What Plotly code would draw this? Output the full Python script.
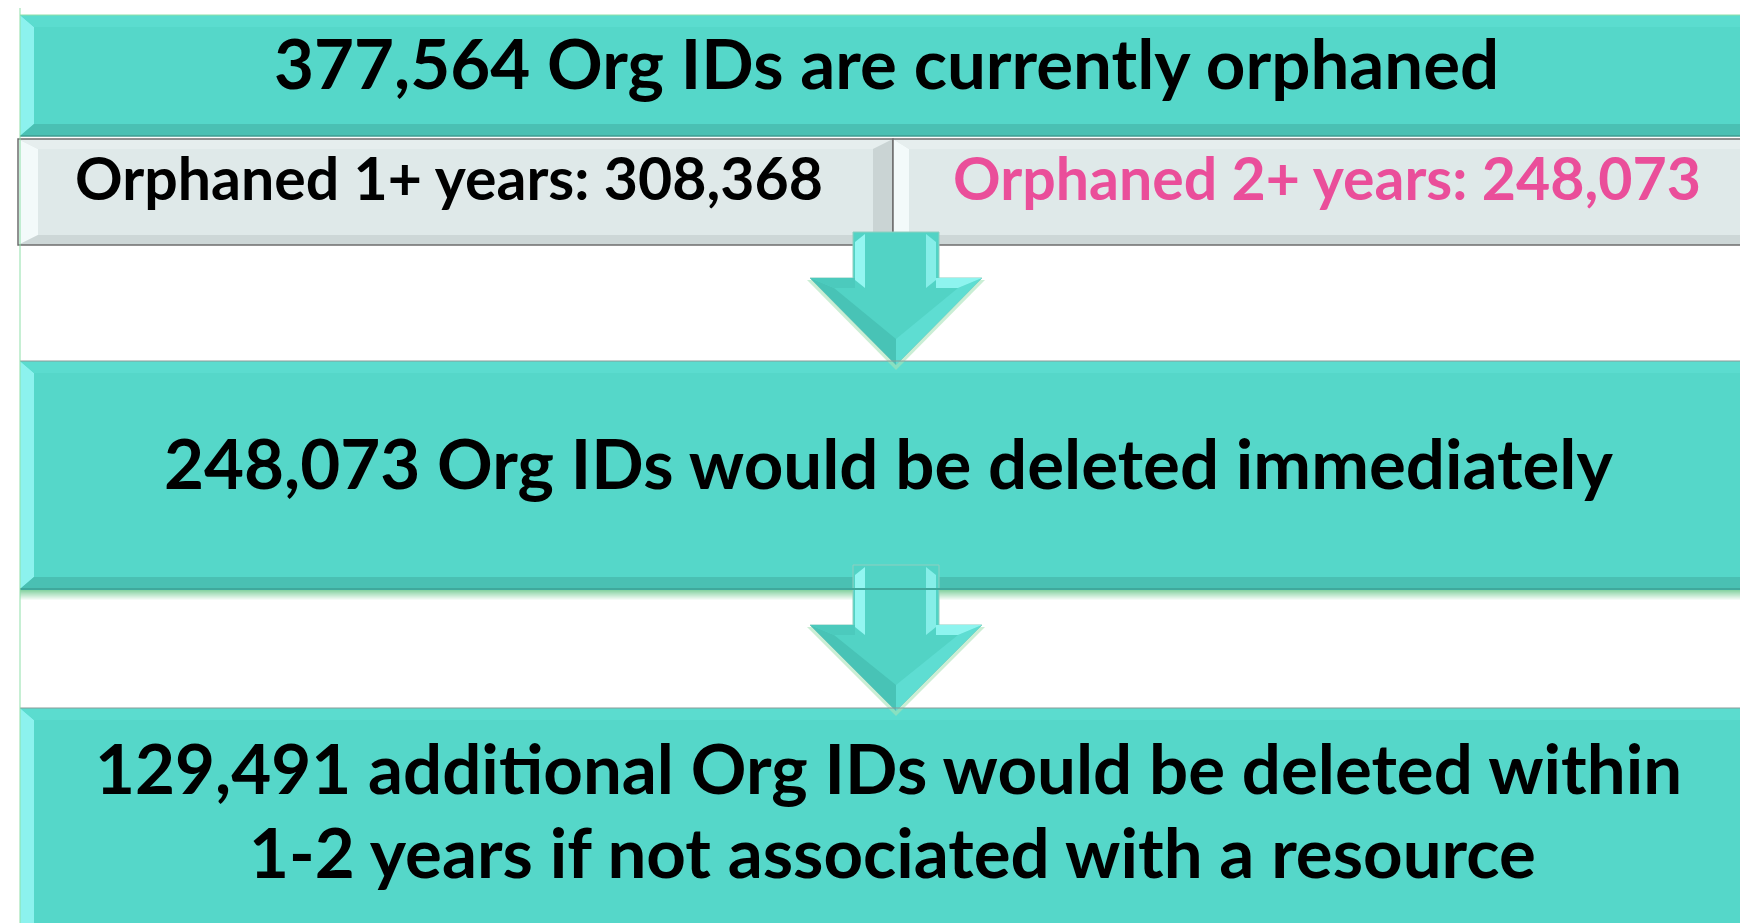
import plotly.graph_objects as go

# ---- data ----
total_orphaned = [377564]
orphan_groups = ["Orphaned 1+ years", "Orphaned 2+ years"]
orphan_counts = [308368, 248073]
deleted_now = [248073]
deleted_later = [129491]

W, H = 1748, 923
TEAL = "#55D7C9"
GRAY = "#DFE9E9"
PINK = "#EA4E9A"
FONT = "Lato"

shapes = []


def path(pts):
    return "M " + " L ".join(f"{x},{y}" for x, y in pts) + " Z"


def poly(pts, fill, line=None, lw=0, opacity=1.0):
    shapes.append(dict(type="path", path=path(pts), fillcolor=fill,
                       line=dict(color=line or fill, width=lw), opacity=opacity, layer="below"))


def bevel_box(x0, y0, x1, y1, base, left, top, right, bottom, bx=13, by=13, outline=None, olw=1):
    poly([(x0, y0), (x1, y0), (x1, y1), (x0, y1)], base)
    poly([(x0, y0), (x0 + bx, y0 + by), (x0 + bx, y1 - by), (x0, y1)], left)
    poly([(x0, y0), (x1, y0), (x1 - bx, y0 + by), (x0 + bx, y0 + by)], top)
    poly([(x1, y0), (x1, y1), (x1 - bx, y1 - by), (x1 - bx, y0 + by)], right)
    poly([(x0, y1), (x1, y1), (x1 - bx, y1 - by), (x0 + bx, y1 - by)], bottom)
    if outline:
        shapes.append(dict(type="rect", x0=x0, y0=y0, x1=x1, y1=y1,
                           line=dict(color=outline, width=olw), layer="below"))


def shadow(x0, x1, y, h=10):
    for i in range(h):
        shapes.append(dict(type="rect", x0=x0, x1=x1, y0=y + i, y1=y + i + 1,
                           fillcolor="#6CC98E", line=dict(width=0),
                           opacity=0.8 * (1 - i / h), layer="below"))


def arrow(cx, ytop, yhead, ytip):
    sw, hw = 43, 86
    # soft green glow
    poly([(cx - hw - 3, yhead + 2), (cx + hw + 3, yhead + 2), (cx, ytip + 5)], "#A6E3B8", opacity=0.6)
    # shaft + head
    poly([(cx - sw, ytop), (cx + sw, ytop), (cx + sw, yhead), (cx + hw, yhead),
          (cx, ytip), (cx - hw, yhead), (cx - sw, yhead)], "#52D3C5", "#8FCFC0", 1)
    # shaft highlights
    poly([(cx - sw + 2, ytop + 10), (cx - sw + 12, ytop + 2), (cx - sw + 12, yhead + 10), (cx - sw + 2, yhead + 2)], "#93F6F1")
    poly([(cx + sw - 13, ytop + 2), (cx + sw - 3, ytop + 10), (cx + sw - 3, yhead + 2), (cx + sw - 13, yhead + 10)], "#86EEE8")
    # head bevels (slanted edges)
    poly([(cx - hw, yhead), (cx - hw + 24, yhead + 10), (cx, ytip - 26), (cx, ytip)], "#48C3B6")
    poly([(cx + hw, yhead), (cx + hw - 24, yhead + 10), (cx, ytip - 26), (cx, ytip)], "#5EDDD2")
    # top edges of head
    poly([(cx - hw, yhead), (cx - sw + 2, yhead), (cx - sw + 2, yhead + 10), (cx - hw + 24, yhead + 10)], "#4CCABD")
    poly([(cx + hw, yhead), (cx + sw - 3, yhead), (cx + sw - 3, yhead + 10), (cx + hw - 24, yhead + 10)], "#8EF4EF")


# top box
bevel_box(12, 7, W + 2, 128, TEAL, "#8CF2EE", "#5BDCCF", "#8CF2EE", "#4AC0B3", bx=14, by=12)
shapes.append(dict(type="line", x0=12, x1=W, y0=7, y1=7, line=dict(color="#8EDFA8", width=1)))
shapes.append(dict(type="line", x0=12, x1=W, y0=128, y1=128, line=dict(color="#3E9C91", width=1.5)))
# gray boxes
bevel_box(10, 131, 885, 237, GRAY, "#F3FAFA", "#E6EEEE", "#CAD4D4", "#CDD7D7", bx=20, by=10, outline="#6E6E6E", olw=1.5)
bevel_box(885, 131, W + 2, 237, GRAY, "#F3FAFA", "#E6EEEE", "#CAD4D4", "#CDD7D7", bx=16, by=10, outline="#6E6E6E", olw=1.5)
# middle box
bevel_box(12, 353, W + 2, 581, TEAL, "#8CF2EE", "#5BDCCF", "#4CC7BA", "#4AC0B3", bx=14, by=12)
shadow(12, W, 582)
shapes.append(dict(type="line", x0=12, x1=W, y0=581, y1=581, line=dict(color="#3FA89C", width=2)))
shapes.append(dict(type="line", x0=12, x1=W, y0=353, y1=353, line=dict(color="#8A9A98", width=1)))
# bottom box
bevel_box(12, 700, W + 2, 940, TEAL, "#8CF2EE", "#5BDCCF", "#4CC7BA", "#4AC0B3", bx=14, by=12)
shapes.append(dict(type="line", x0=12, x1=W, y0=700, y1=700, line=dict(color="#8A9A98", width=1)))
# left thin line
shapes.append(dict(type="line", x0=12, x1=12, y0=0, y1=H, line=dict(color="#8EDFA8", width=1)))

arrow(888, 224, 270, 357)
arrow(888, 557, 617, 703)

ann = []


def text(x, y, s, size, color="black"):
    ann.append(dict(x=x, y=y, xref="x", yref="y", text=s, showarrow=False,
                    font=dict(family=FONT, size=size, color=color, weight="bold"),
                    xanchor="center", yanchor="middle"))


text(878, 54, f"{total_orphaned[0]:,} Org IDs are currently orphaned", 69)
text(441, 169, f"{orphan_groups[0]}: {orphan_counts[0]:,}", 59)
text(1319, 169, f"{orphan_groups[1]}: {orphan_counts[1]:,}", 59, PINK)
text(880, 454, f"{deleted_now[0]:,} Org IDs would be deleted immediately", 69)
text(880, 759, f"{deleted_later[0]:,} additional Org IDs would be deleted within", 69)
text(884, 843, "1-2 years if not associated with a resource", 69)

fig = go.Figure()
fig.update_layout(
    width=W, height=H, margin=dict(l=0, r=0, t=0, b=0),
    paper_bgcolor="white", plot_bgcolor="white",
    xaxis=dict(range=[0, W], visible=False, fixedrange=True),
    yaxis=dict(range=[H, 0], visible=False, fixedrange=True),
    shapes=shapes, annotations=ann, showlegend=False,
)
fig.write_html("out.html")
